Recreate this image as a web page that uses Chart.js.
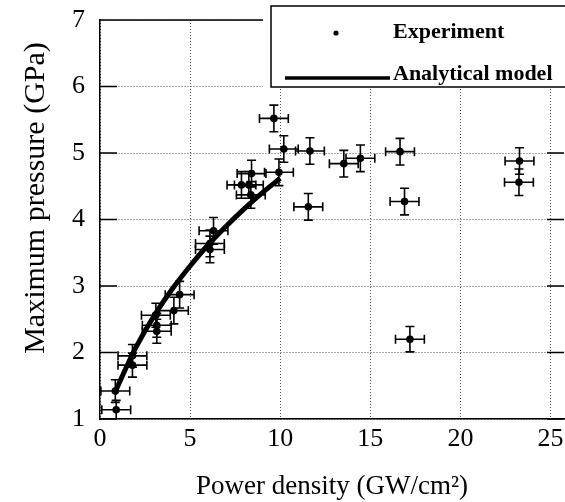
<!DOCTYPE html>
<html>
<head>
<meta charset="utf-8">
<script src="https://cdn.jsdelivr.net/npm/chart.js@4.4.1/dist/chart.umd.min.js"></script>
<style>
  html, body { margin: 0; padding: 0; background: #fff; overflow: hidden; }
  #wrap { width: 568px; height: 502px; }
</style>
</head>
<body>
<div id="wrap"><canvas id="graficoPressao" width="568" height="502"></canvas></div>
<script>
// Pontos experimentais (GW/cm2, GPa) e barras de erro
const expX    = [0.9, 0.85, 1.8, 1.8, 3.1, 3.15, 3.15, 4.1, 4.42, 6.1, 6.1, 6.3, 7.85, 8.26, 8.37, 8.41, 9.93, 9.65, 10.2, 11.65, 11.56, 13.53, 14.45, 16.65, 16.9, 17.2, 23.28, 23.25];
const expY    = [1.14, 1.42, 1.95, 1.81, 2.56, 2.41, 2.32, 2.63, 2.87, 3.64, 3.55, 3.83, 4.52, 4.52, 4.37, 4.69, 4.71, 5.52, 5.06, 5.03, 4.19, 4.84, 4.92, 5.02, 4.27, 2.2, 4.88, 4.56];
const expErrX = [0.8, 0.8, 0.8, 0.8, 0.8, 0.8, 0.8, 0.8, 0.8, 0.8, 0.8, 0.8, 0.8, 0.8, 0.8, 0.8, 0.8, 0.8, 0.8, 0.8, 0.8, 0.8, 0.8, 0.8, 0.8, 0.8, 0.8, 0.8];
const expErrY = [0.14, 0.17, 0.17, 0.18, 0.18, 0.18, 0.18, 0.2, 0.2, 0.2, 0.2, 0.2, 0.2, 0.2, 0.2, 0.2, 0.2, 0.2, 0.2, 0.2, 0.2, 0.2, 0.2, 0.2, 0.2, 0.19, 0.2, 0.2];

// Curva do modelo analítico
const modelX = [0.8, 1.5, 2, 3, 4, 5, 6, 7, 8, 9, 10];
const modelY = [1.38, 1.8, 2.08, 2.55, 2.95, 3.3, 3.62, 3.9, 4.16, 4.4, 4.62];

const xTicks = [0, 5, 10, 15, 20, 25];
const yTicks = [1, 2, 3, 4, 5, 6, 7];
const legendLabels = ['Experiment', 'Analytical model'];
const xTitle = 'Power density (GW/cm\u00B2)';
const yTitle = 'Maximum pressure (GPa)';

const SERIF = "'Liberation Serif', 'Times New Roman', serif";

//Barras de erro desenhadas pelas escalas do gráfico
const errorBars = {
    id: 'errorBars',
    beforeDatasetsDraw(chart) {
        const { ctx, chartArea, scales: { x, y } } = chart;
        const cap = 4.5;
        ctx.save();
        ctx.beginPath();
        ctx.rect(chartArea.left, chartArea.top, chartArea.right - chartArea.left, chartArea.bottom - chartArea.top);
        ctx.clip();
        ctx.strokeStyle = '#000';
        ctx.lineWidth = 1.6;
        expX.forEach((vx, i) => {
            const px = x.getPixelForValue(vx);
            const py = y.getPixelForValue(expY[i]);
            const x1 = x.getPixelForValue(vx - expErrX[i]);
            const x2 = x.getPixelForValue(vx + expErrX[i]);
            const y1 = y.getPixelForValue(expY[i] - expErrY[i]);
            const y2 = y.getPixelForValue(expY[i] + expErrY[i]);
            ctx.beginPath();
            ctx.moveTo(x1, py); ctx.lineTo(x2, py);
            ctx.moveTo(x1, py - cap); ctx.lineTo(x1, py + cap);
            ctx.moveTo(x2, py - cap); ctx.lineTo(x2, py + cap);
            ctx.moveTo(px, y1); ctx.lineTo(px, y2);
            ctx.moveTo(px - cap, y1); ctx.lineTo(px + cap, y1);
            ctx.moveTo(px - cap, y2); ctx.lineTo(px + cap, y2);
            ctx.stroke();
        });
        ctx.restore();
    }
};

//Moldura, marcas internas, legenda e títulos
const frame = {
    id: 'frame',
    afterDraw(chart) {
        const { ctx, chartArea, scales: { x, y } } = chart;
        ctx.save();
        ctx.strokeStyle = '#000';
        ctx.lineWidth = 1.5;
        ctx.beginPath();
        ctx.moveTo(chartArea.left, chartArea.top);
        ctx.lineTo(chartArea.right, chartArea.top);
        yTicks.forEach(v => {
            const py = y.getPixelForValue(v);
            ctx.moveTo(chartArea.left, py); ctx.lineTo(chartArea.left + 17, py);
            ctx.moveTo(chartArea.right - 17, py); ctx.lineTo(chartArea.right, py);
        });
        ctx.stroke();

        // legenda
        ctx.fillStyle = '#fff';
        ctx.fillRect(263, 0, chart.width - 263, 88);
        ctx.lineWidth = 1.5;
        ctx.strokeRect(271, 6, chart.width, 81);
        ctx.fillStyle = '#000';
        ctx.beginPath();
        ctx.arc(336, 33, 2.6, 0, Math.PI * 2);
        ctx.fill();
        ctx.lineWidth = 3.5;
        ctx.beginPath();
        ctx.moveTo(285, 78); ctx.lineTo(390, 78);
        ctx.stroke();
        ctx.font = 'bold 22px ' + SERIF;
        ctx.textAlign = 'left';
        ctx.textBaseline = 'alphabetic';
        ctx.fillText(legendLabels[0], 393, 38);
        ctx.fillText(legendLabels[1], 393, 80);

        // títulos dos eixos
        ctx.font = '27px ' + SERIF;
        ctx.textAlign = 'center';
        ctx.fillText(xTitle, 332, 494);
        ctx.translate(44, 198);
        ctx.rotate(-Math.PI / 2);
        ctx.font = '30px ' + SERIF;
        ctx.fillText(yTitle, 0, 0);
        ctx.restore();
    }
};

const ctx = document.getElementById('graficoPressao').getContext('2d');
new Chart(ctx, {
    type: 'scatter',
    data: {
        datasets: [
            {
                label: legendLabels[1],
                data: modelX.map((v, i) => ({ x: v, y: modelY[i] })),
                showLine: true,
                borderColor: '#000',
                borderWidth: 5,
                pointRadius: 0,
                tension: 0.4,
                cubicInterpolationMode: 'monotone'
            },
            {
                label: legendLabels[0],
                data: expX.map((v, i) => ({ x: v, y: expY[i] })),
                backgroundColor: '#000',
                borderColor: '#000',
                pointRadius: 3.8,
                borderWidth: 0
            }
        ]
    },
    options: {
        responsive: false,
        animation: false,
        layout: { padding: { top: 20, left: 0, right: 0, bottom: 0 } },
        plugins: { legend: { display: false }, tooltip: { enabled: false } },
        scales: {
            x: {
                type: 'linear',
                min: 0,
                max: 25.75,
                afterFit(scale) {
                    scale.height = 83;
                    scale.paddingLeft = 0;
                    scale.paddingRight = 0;
                },
                afterBuildTicks(scale) { scale.ticks = xTicks.map(v => ({ value: v })); },
                border: { display: true, color: '#000', width: 1.5, dash: [1, 2] },
                grid: { color: '#555', lineWidth: 1, drawTicks: false },
                ticks: { color: '#000', padding: 5, font: { family: SERIF, size: 26 } }
            },
            y: {
                min: 1,
                max: 7,
                afterFit(scale) {
                    scale.width = 100;
                    scale.paddingTop = 0;
                    scale.paddingBottom = 0;
                },
                afterBuildTicks(scale) { scale.ticks = yTicks.map(v => ({ value: v })); },
                border: { display: true, color: '#000', width: 1.5, dash: [1, 2] },
                grid: { color: '#555', lineWidth: 1, drawTicks: false },
                ticks: { color: '#000', padding: 15, font: { family: SERIF, size: 26 } }
            }
        }
    },
    plugins: [errorBars, frame]
});
</script>
</body>
</html>
